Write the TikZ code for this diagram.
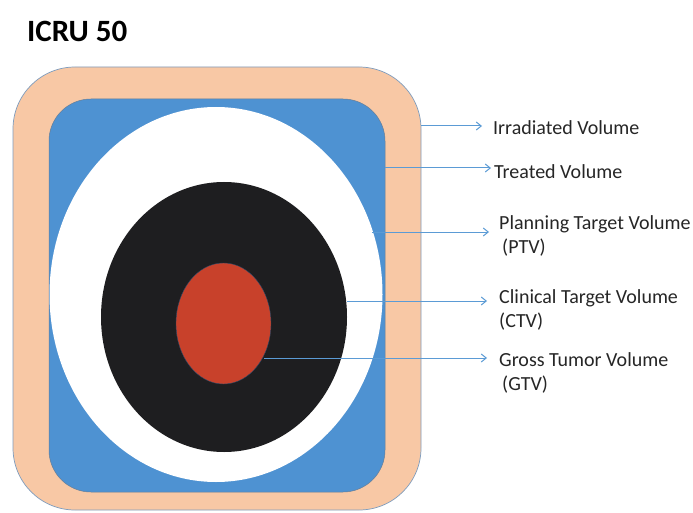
\documentclass[tikz,border=0pt]{standalone}
\usepackage{fontspec}
\setmainfont{Carlito}
\usetikzlibrary{arrows.meta,shapes.geometric}
\definecolor{peach}{HTML}{F8C8A5}
\definecolor{skyblue}{HTML}{4E92D2}
\definecolor{darkcore}{HTML}{1E1E20}
\definecolor{tumor}{HTML}{C8412B}
\definecolor{arrowblue}{HTML}{5B9BD5}
\definecolor{rimline}{HTML}{7F9DBE}
\tikzset{
  volume/.style={ellipse, inner sep=0pt},
  pointer/.style={draw=arrowblue, line width=1pt, -{Straight Barb[length=5pt,width=8pt]}},
  lbl/.style={anchor=west, font=\fontsize{20}{23.5}\selectfont, inner sep=1pt, align=left, text=black!85},
}
\begin{document}
\begin{tikzpicture}[x=1pt,y=-1pt]
\useasboundingbox (0,0) rectangle (693,513);
\fill[white] (0,0) rectangle (693,513);

% heading
\node[anchor=west, font=\fontsize{31}{36}\selectfont\bfseries, inner sep=0pt] (title) at (27,31) {ICRU 50};

% nested volumes
\draw[draw=rimline, fill=peach, line width=0.7pt, rounded corners=62] (13,67) rectangle (421,510);
\draw[draw=rimline!80!black, fill=skyblue, line width=0.5pt, rounded corners=42] (49,99) rectangle (385,492);
\node[volume, fill=white, minimum width=333, minimum height=375] (ptv) at (216,294.5) {};
\node[volume, fill=darkcore, minimum width=246, minimum height=270] (ctv) at (224,317) {};
\node[volume, draw=skyblue!50!black, line width=0.4pt, fill=tumor, minimum width=95, minimum height=121] (gtv) at (223.5,323.5) {};

% labels
\node[lbl] (irr) at (492,128) {Irradiated Volume};
\node[lbl] (trt) at (493,172) {Treated Volume};
\node[lbl] (plan) at (498,236) {Planning Target Volume\\\hspace*{3pt}(PTV)};
\node[lbl] (clin) at (498,310) {Clinical Target Volume\\(CTV)};
\node[lbl] (gross) at (498,373) {Gross Tumor Volume\\\hspace*{3pt}(GTV)};

% connector origins on the volume boundaries
\coordinate (irrO) at (421,126);
\coordinate (trtO) at (385,168);
\coordinate (planO) at (372,232);
\coordinate (clinO) at (347,301);
\coordinate (grossO) at (264,358);

\draw[pointer, shorten >=10pt] (irrO) -- (irrO -| irr.west);
\draw[pointer, shorten >=2pt] (trtO) -- (trtO -| trt.west);
\draw[pointer, shorten >=9pt] (planO) -- (planO -| plan.west);
\draw[pointer, shorten >=11pt] (clinO) -- (clinO -| clin.west);
\draw[pointer, shorten >=11pt] (grossO) -- (grossO -| gross.west);
\end{tikzpicture}
\end{document}
